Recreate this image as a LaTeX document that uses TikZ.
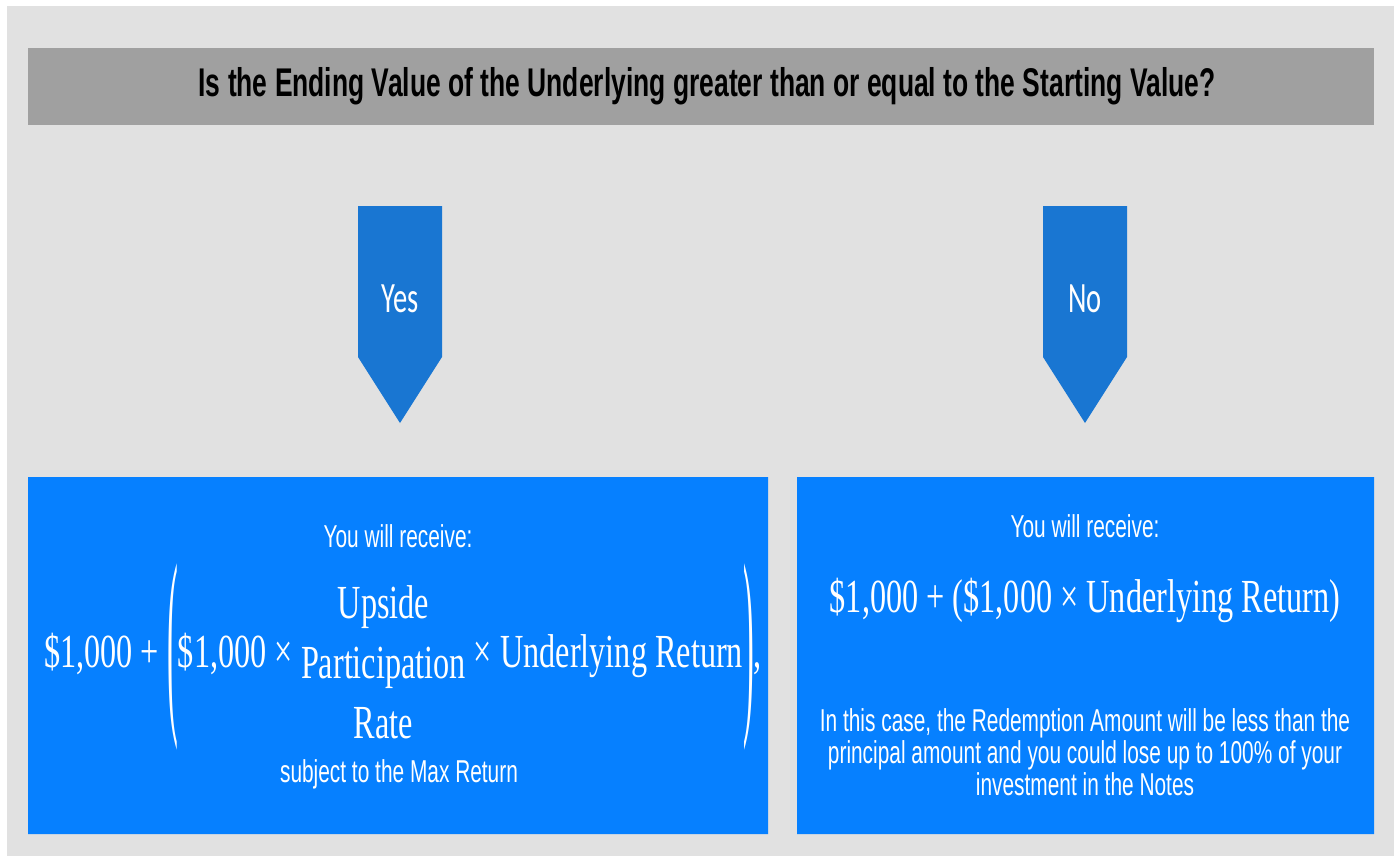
\documentclass[tikz,border=0pt]{standalone}
\usepackage{fontspec}
\usepackage{graphicx}
\usepackage{tikz}
\newfontfamily\narrowsf[FakeStretch=0.66]{Liberation Sans}
\newfontfamily\narrowrm[FakeStretch=0.68]{Liberation Serif}
\newfontfamily\arrowsf[FakeStretch=0.66]{Carlito}
\definecolor{bggray}{HTML}{E1E1E1}
\definecolor{hdrgray}{HTML}{A0A0A0}
\definecolor{arrowblue}{RGB}{25,118,210}
\definecolor{boxblue}{RGB}{6,128,255}
% a tall thin bracket round the stacked rate
\newcommand{\tallparen}[1]{\raisebox{-11.1pt}{\scalebox{1}[4.34]{#1}}}

\begin{document}
\begin{tikzpicture}[
  every node/.style={inner sep=0,outer sep=0},
  plain/.style={text=white,font=\narrowsf\fontsize{9}{9.1}\selectfont},
  sums/.style={text=white,font=\narrowrm\fontsize{13.5}{17}\selectfont},
  yesno/.style={text=white,font=\arrowsf\fontsize{12.3}{14}\selectfont}]
\useasboundingbox (0,0) rectangle (140mm,85.6mm);
\fill[bggray] (0.7mm,0) rectangle (139.4mm,85mm);
% question bar
\fill[hdrgray] (2.8mm,73.1mm) rectangle (137.4mm,80.8mm);
\node (question) at (70.7mm,76.95mm) {\narrowsf\fontsize{11.4}{13}\selectfont\bfseries Is the Ending Value of the Underlying greater than or equal to the Starting Value?};
% the two arrows
\fill[arrowblue] (35.8mm,65mm) -- (44.2mm,65mm) -- (44.2mm,49.9mm) -- (40mm,43.3mm) -- (35.8mm,49.9mm) -- cycle;
\fill[arrowblue] (104.3mm,65mm) -- (112.7mm,65mm) -- (112.7mm,49.9mm) -- (108.5mm,43.3mm) -- (104.3mm,49.9mm) -- cycle;
\node[yesno] (yes) at (40mm,55.7mm) {Yes};
\node[yesno] (no) at (108.5mm,55.7mm) {No};
% outcome boxes
\fill[boxblue] (2.8mm,2.2mm) rectangle (76.8mm,37.9mm) (79.7mm,2.2mm) rectangle (137.4mm,37.9mm);
\node[plain,anchor=base] (yesrecv) at (39.8mm,30.9mm) {You will receive:};
\node[sums,anchor=base] (yessum) at (40.3mm,18.9mm) {\$1,000 + \tallparen{(}\$1,000 × \raisebox{-3.4pt}{\begin{tabular}{@{}c@{}}Upside\\Participation\\Rate\end{tabular}} × Underlying Return\tallparen{)},};
\node[plain,anchor=base] (yescap) at (39.9mm,7.4mm) {subject to the Max Return};
\node[plain,anchor=base] (norecv) at (108.5mm,31.9mm) {You will receive:};
\node[sums,anchor=base] (nosum) at (108.5mm,24.4mm) {\$1,000 + (\$1,000 × Underlying Return)};
\node[plain,align=center] (nonote) at (108.5mm,10.4mm) {In this case, the Redemption Amount will be less than the\\principal amount and you could lose up to 100\% of your\\investment in the Notes};
\end{tikzpicture}
\end{document}
